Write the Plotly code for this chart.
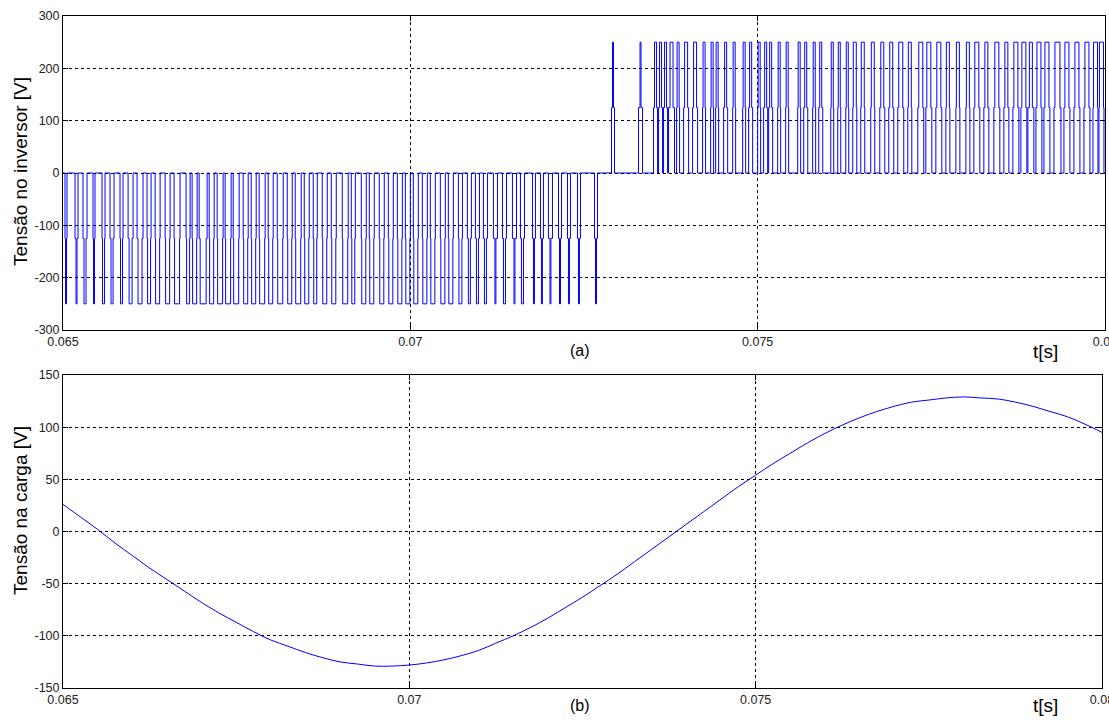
import plotly.graph_objects as go

# ---------------- data ----------------
# Inverter output pulses (a): start time [ms], total width [us] (at +-125 V level),
# core width [us] (at +-250 V level)
neg_start_ms = [65.029, 65.173, 65.288, 65.432, 65.562, 65.677, 65.821, 65.937, 66.066, 66.210,
                66.326, 66.470, 66.599, 66.772, 66.859, 66.960, 67.104, 67.219, 67.334, 67.450,
                67.594, 67.709, 67.824, 67.954, 68.084, 68.228, 68.343, 68.473, 68.602, 68.732,
                68.862, 69.020, 69.150, 69.294, 69.409, 69.553, 69.683, 69.813, 69.928, 70.043,
                70.173, 70.288, 70.432, 70.547, 70.692, 70.821, 70.937, 71.052, 71.196, 71.326,
                71.470, 71.585, 71.758, 71.873, 71.988, 72.133, 72.262, 72.406, 72.651]
neg_outer_us = [29, 43, 58, 29, 43, 58, 43, 72, 86, 58,
                72, 72, 86, 58, 72, 115, 72, 86, 86, 86,
                72, 72, 86, 72, 86, 72, 86, 72, 58, 72,
                72, 86, 58, 72, 72, 72, 72, 72, 72, 72,
                72, 72, 72, 72, 58, 58, 58, 58, 58, 58,
                58, 58, 43, 43, 58, 43, 43, 43, 43]
neg_core_us = [14, 14, 29, 14, 29, 29, 29, 43, 58, 43,
               58, 58, 72, 43, 58, 86, 58, 72, 72, 72,
               58, 58, 72, 58, 72, 58, 72, 58, 43, 58,
               58, 72, 43, 58, 58, 58, 58, 58, 58, 58,
               58, 58, 58, 58, 43, 29, 29, 29, 14, 29,
               14, 29, 14, 14, 14, 14, 14, 14, 14]

pos_start_ms = [72.896, 73.285, 73.501, 73.573, 73.645, 73.717, 73.833, 73.934, 74.063, 74.207,
                74.323, 74.395, 74.510, 74.640, 74.784, 74.870, 75.000, 75.086, 75.158, 75.288,
                75.403, 75.576, 75.663, 75.792, 75.879, 76.052, 76.153, 76.268, 76.369, 76.484,
                76.628, 76.758, 76.887, 77.017, 77.161, 77.305, 77.421, 77.565, 77.709, 77.853,
                77.997, 78.112, 78.256, 78.400, 78.544, 78.674, 78.789, 78.890, 79.006, 79.121,
                79.265, 79.409, 79.553, 79.697, 79.827, 79.913]
pos_outer_us = [43, 58, 58, 58, 58, 86, 43, 72, 72, 43,
                43, 43, 58, 43, 43, 58, 43, 58, 58, 43,
                43, 43, 58, 43, 58, 43, 43, 43, 58, 58,
                58, 72, 72, 86, 58, 86, 86, 86, 58, 58,
                58, 86, 72, 86, 72, 86, 86, 86, 86, 86,
                101, 86, 86, 86, 72, 72]
pos_core_us = [14, 14, 29, 29, 29, 43, 29, 43, 43, 29,
               29, 29, 29, 29, 29, 29, 29, 29, 29, 29,
               29, 29, 29, 29, 29, 29, 29, 29, 43, 43,
               43, 43, 43, 58, 43, 58, 58, 58, 43, 43,
               43, 58, 43, 58, 43, 58, 58, 43, 58, 58,
               72, 58, 58, 58, 58, 58]

# Load voltage (b): samples read every 0.25 ms
load_t_ms = [65.00, 65.25, 65.50, 65.75, 66.00, 66.25, 66.50, 66.75, 67.00, 67.25,
             67.50, 67.75, 68.00, 68.25, 68.50, 68.75, 69.00, 69.25, 69.50, 69.75,
             70.00, 70.25, 70.50, 70.75, 71.00, 71.25, 71.50, 71.75, 72.00, 72.25,
             72.50, 72.75, 73.00, 73.25, 73.50, 73.75, 74.00, 74.25, 74.50, 74.75,
             75.00, 75.25, 75.50, 75.75, 76.00, 76.25, 76.50, 76.75, 77.00, 77.25,
             77.50, 77.75, 78.00, 78.25, 78.50, 78.75, 79.00, 79.25, 79.50, 79.75, 80.00]
load_v = [26, 14, 2, -11, -23, -35, -46, -57, -68, -78,
          -87, -96, -104, -110, -116, -121, -125, -127, -129, -129,
          -128, -126, -123, -119, -114, -107, -100, -92, -83, -73,
          -63, -52, -41, -29, -17, -5, 7, 19, 31, 43,
          54, 65, 75, 85, 94, 102, 109, 115, 120, 124,
          126, 128, 129, 128, 127, 124, 120, 115, 110, 103, 95]

x_ticks = [0.065, 0.07, 0.075, 0.08]
x_ticktext = ["0.065", "0.07", "0.075", "0.08"]
ya_ticks = [-300, -200, -100, 0, 100, 200, 300]
yb_ticks = [-150, -100, -50, 0, 50, 100, 150]

# ---------------- build step waveform ----------------
def add_pulses(xs, ys, starts, outer, core, sign):
    for s, w, c in zip(starts, outer, core):
        t1 = s / 1000.0
        w_s = w / 1e6
        c_s = c / 1e6
        t2 = t1 + (w_s - c_s) / 2
        t3 = t2 + c_s
        t4 = t1 + w_s
        xs += [t1, t1, t2, t2, t3, t3, t4, t4]
        ys += [0, sign * 125, sign * 125, sign * 250, sign * 250, sign * 125, sign * 125, 0]

inv_x = [0.065]
inv_y = [0]
add_pulses(inv_x, inv_y, neg_start_ms, neg_outer_us, neg_core_us, -1)
add_pulses(inv_x, inv_y, pos_start_ms, pos_outer_us, pos_core_us, 1)
inv_x.append(0.08)
inv_y.append(0)

load_t = [t / 1000.0 for t in load_t_ms]

# ---------------- figure ----------------
W, H = 1109, 720
ML, MR, MT, MB = 63, 4, 16, 32
PW, PH = W - ML - MR, H - MT - MB
FONT = "Liberation Sans, Arial, sans-serif"

def px_x(px):
    return (px - ML) / PW

def px_y(py):
    return (H - MB - py) / PH

fig = go.Figure()
fig.add_trace(go.Scatter(x=inv_x, y=inv_y, mode="lines",
                         line=dict(color="#0000FF", width=1), xaxis="x", yaxis="y",
                         showlegend=False, hoverinfo="skip"))
fig.add_trace(go.Scatter(x=load_t, y=load_v, mode="lines", line_shape="spline",
                         line=dict(color="#0000FF", width=1), xaxis="x2", yaxis="y2",
                         showlegend=False, hoverinfo="skip"))

axis_common = dict(showline=True, linecolor="black", linewidth=1, mirror="ticks",
                   ticks="inside", ticklen=5, tickcolor="black",
                   showgrid=True, gridcolor="#000000", gridwidth=1, griddash="3px,3px",
                   zeroline=False, automargin=False, ticklabeloverflow="allow",
                   tickfont=dict(family=FONT, size=12.5, color="#222"))

fig.update_layout(
    width=W, height=H,
    paper_bgcolor="white", plot_bgcolor="white",
    margin=dict(l=ML, r=MR, t=MT, b=MB, autoexpand=False),
    xaxis=dict(domain=[0, 1], range=[0.065, 0.08], tickvals=x_ticks, ticktext=x_ticktext,
               anchor="y", **axis_common),
    yaxis=dict(domain=[px_y(330), 1], range=[-300, 300], tickvals=ya_ticks,
               ticktext=[str(v) for v in ya_ticks], anchor="x", **axis_common),
    xaxis2=dict(domain=[0, px_x(1102)], range=[0.065, 0.08], tickvals=x_ticks,
                ticktext=x_ticktext, anchor="y2", **axis_common),
    yaxis2=dict(domain=[0, px_y(375)], range=[-150, 150], tickvals=yb_ticks,
                ticktext=[str(v) for v in yb_ticks], anchor="x2", **axis_common),
)

def ann(text, x, y, size, angle=0):
    fig.add_annotation(text=text, x=px_x(x), y=px_y(y), xref="paper", yref="paper",
                       showarrow=False, textangle=angle, xanchor="center", yanchor="middle",
                       font=dict(family=FONT, size=size, color="black"))

ann("Tensão no inversor [V]", 21, 172, 19, -90)
ann("Tensão na carga [V]", 21, 511, 19, -90)
ann("(a)", 580, 350, 16)
ann("(b)", 580, 706, 16)
ann("t[s]", 1045, 351, 19)
ann("t[s]", 1045, 706, 19)

# remove the browser's default 8px page margin so the figure fills the window exactly
fig.write_html("out.html", config={"displayModeBar": False},
               post_script="document.body.style.margin='0px';document.body.style.overflow='hidden';")
